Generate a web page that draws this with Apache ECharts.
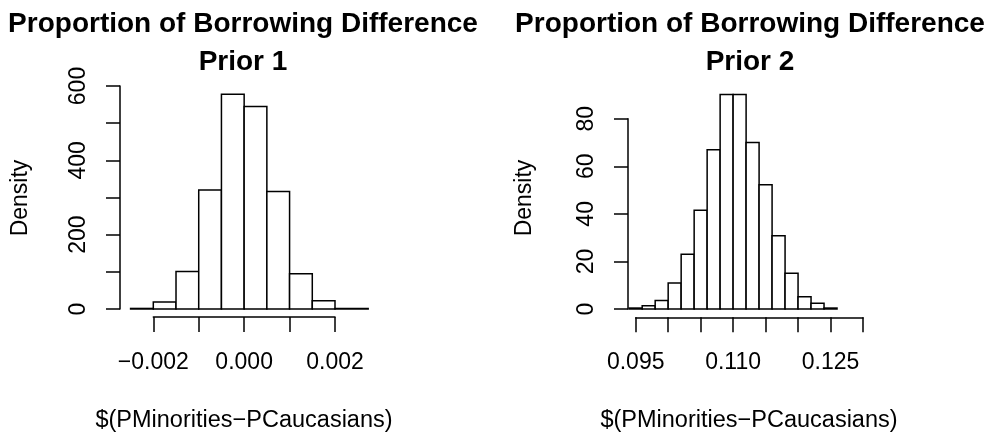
<!DOCTYPE html>
<html>
<head>
<meta charset="utf-8">
<script src="https://cdn.jsdelivr.net/npm/echarts@6/dist/echarts.min.js"></script>
<style>
html,body{margin:0;padding:0;background:#fff;}
#chart{width:987px;height:432px;}
</style>
</head>
<body>
<div id="chart"></div>
<script>
// ---- data ----
const titleP1 = 'Proportion of Borrowing Difference\nPrior 1';
const titleP2 = 'Proportion of Borrowing Difference\nPrior 2';
const xTitle = '$(PMinorities\u2212PCaucasians)';
const yTitle = 'Density';

// histogram 1: bin edges and densities
const breaksP1 = [-0.0025, -0.002, -0.0015, -0.001, -0.0005, 0, 0.0005, 0.001, 0.0015, 0.002, 0.00273];
const densityP1 = [1.5, 19, 101, 320, 578, 545, 316, 95, 22, 1.5];

// histogram 2: bin edges and densities
const breaksP2 = [0.094, 0.096, 0.098, 0.100, 0.102, 0.104, 0.106, 0.108, 0.110, 0.112, 0.114, 0.116, 0.118, 0.120, 0.122, 0.124, 0.126];
const densityP2 = [0.4, 1.4, 3.6, 10.9, 23, 41.5, 66.9, 90.2, 90.2, 70, 52.2, 30.8, 15, 5.2, 2.4, 0.4];

// axis ticks and which tick labels are printed
const xTicksP1 = [-0.002, -0.001, 0, 0.001, 0.002];
const xLabelsP1 = ['\u22120.002', '', '0.000', '', '0.002'];
const yTicksP1 = [0, 100, 200, 300, 400, 500, 600];
const yLabelsP1 = ['0', '', '200', '', '400', '', '600'];

const xTicksP2 = [0.095, 0.100, 0.105, 0.110, 0.115, 0.120, 0.125, 0.130];
const xLabelsP2 = ['0.095', '', '', '0.110', '', '', '0.125', ''];
const yTicksP2 = [0, 20, 40, 60, 80];
const yLabelsP2 = ['0', '20', '40', '60', '80'];

// ---- build ----
function bins(breaks, dens) {
  return dens.map((d, i) => [breaks[i], breaks[i + 1], d]);
}
const FONT = 'Liberation Sans, Arial, sans-serif';
const LABEL_SIZE = 23;

function renderItem(params, api) {
  const x0 = api.value(0), x1 = api.value(1), d = api.value(2);
  const p0 = api.coord([x0, 0]);
  const p1 = api.coord([x1, d]);
  return {
    type: 'rect',
    shape: { x: p0[0], y: p1[1], width: p1[0] - p0[0], height: p0[1] - p1[1] },
    style: { fill: '#ffffff', stroke: '#000000', lineWidth: 1.5 }
  };
}

function labelFrom(ticks, labels) {
  return function (v) {
    for (let i = 0; i < ticks.length; i++) {
      if (Math.abs(ticks[i] - v) < 1e-9) return labels[i];
    }
    return '';
  };
}

function xAxisCfg(idx, ticks, labels, offset) {
  return {
    type: 'value', gridIndex: idx,
    min: ticks[0], max: ticks[ticks.length - 1], interval: ticks[1] - ticks[0],
    offset: offset,
    axisLine: { show: true, onZero: false, lineStyle: { color: '#000', width: 1.5 } },
    axisTick: { show: true, length: 15, lineStyle: { color: '#000', width: 1.5 } },
    splitLine: { show: false },
    axisLabel: { show: true, margin: 34, color: '#000', fontFamily: FONT, fontSize: LABEL_SIZE,
      formatter: labelFrom(ticks, labels), hideOverlap: false }
  };
}
function yAxisCfg(idx, ticks, labels, offset) {
  return {
    type: 'value', gridIndex: idx,
    min: ticks[0], max: ticks[ticks.length - 1], interval: ticks[1] - ticks[0],
    offset: offset,
    axisLine: { show: true, onZero: false, lineStyle: { color: '#000', width: 1.5 } },
    axisTick: { show: true, length: 14, lineStyle: { color: '#000', width: 1.5 } },
    splitLine: { show: false },
    axisLabel: { show: true, rotate: 90, margin: 30, color: '#000', fontFamily: FONT, fontSize: LABEL_SIZE,
      formatter: labelFrom(ticks, labels), hideOverlap: false }
  };
}

function textEl(text, x, y, size, bold, rot) {
  return {
    type: 'text', x: x, y: y, rotation: rot || 0, silent: true,
    style: { text: text, x: 0, y: 0, align: 'center', verticalAlign: 'middle',
      font: (bold ? 'bold ' : '') + size + 'px ' + FONT, fill: '#000', lineHeight: 38 }
  };
}

const chart = echarts.init(document.getElementById('chart'), null, { renderer: 'canvas' });
chart.setOption({
  backgroundColor: '#ffffff',
  animation: false,
  grid: [
    { left: 153.3, width: 181.7, top: 86, height: 223 },
    { left: 635.7, width: 227.3, top: 118.7, height: 190.3 }
  ],
  xAxis: [
    xAxisCfg(0, xTicksP1, xLabelsP1, 8),
    xAxisCfg(1, xTicksP2, xLabelsP2, 8.3)
  ],
  yAxis: [
    yAxisCfg(0, yTicksP1, yLabelsP1, 33.3),
    yAxisCfg(1, yTicksP2, yLabelsP2, 7.7)
  ],
  series: [
    { type: 'custom', xAxisIndex: 0, yAxisIndex: 0, clip: false, renderItem: renderItem,
      encode: { x: [0, 1], y: 2 }, data: bins(breaksP1, densityP1) },
    { type: 'custom', xAxisIndex: 1, yAxisIndex: 1, clip: false, renderItem: renderItem,
      encode: { x: [0, 1], y: 2 }, data: bins(breaksP2, densityP2) }
  ],
  graphic: [
    textEl(titleP1.split('\n')[0], 243, 24.5, 28, true),
    textEl(titleP1.split('\n')[1], 243, 62.5, 28, true),
    textEl(titleP2.split('\n')[0], 750, 24.5, 28, true),
    textEl(titleP2.split('\n')[1], 750, 62.5, 28, true),
    textEl(xTitle, 244, 420.5, 23.5, false),
    textEl(xTitle, 749, 420.5, 23.5, false),
    textEl(yTitle, 20.5, 198, 23, false, Math.PI / 2),
    textEl(yTitle, 525, 198, 23, false, Math.PI / 2)
  ]
});
</script>
</body>
</html>
